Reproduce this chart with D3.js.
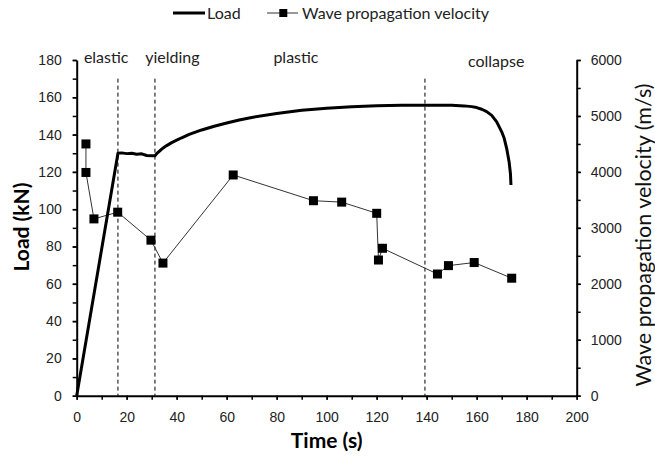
<!DOCTYPE html>
<meta charset="utf-8">
<style>
body { margin: 0; background: #fff; }
svg { font-family: Lato, "Open Sans", sans-serif; }
.tick text { font-size: 14px; fill: #222; }
.domain, .tick line { stroke: #000; }
</style>
<body>
<svg id="chart" width="655" height="457"></svg>
<script src="https://cdn.jsdelivr.net/npm/d3@7"></script>
<script>

// load curve (time in s, load in kN)
var loadTime  = [0, 16.5, 18, 20, 22, 24, 26, 28, 30, 31.3, 32, 33, 34, 35, 36, 38, 40, 42, 45, 50, 55, 60, 65, 70, 80, 90, 100, 110, 120, 130, 140, 150, 155, 158, 160, 162, 164, 166, 168, 170, 171, 172, 173, 173.5, 173.7];
var loadValue = [0, 130, 130.2, 129.8, 130, 129.5, 129.7, 128.8, 128.6, 128.6, 129.8, 131, 132.2, 133.2, 134.1, 135.7, 137, 138.3, 140.1, 142.5, 144.5, 146.2, 147.8, 149.2, 151.3, 153, 154.1, 154.9, 155.5, 155.7, 155.8, 155.7, 155.4, 155, 154.5, 153.6, 152.3, 150.3, 146.8, 141.5, 138, 132.5, 125, 119, 113];

// wave propagation velocity (m/s)
var waveTime  = [3.7, 3.7, 6.9, 16.4, 29.7, 34.5, 62.6, 94.7, 106, 120, 120.7, 122.3, 144.3, 148.7, 159, 174];
var waveValue = [4500, 3990, 3160, 3280, 2780, 2370, 3945, 3485, 3460, 3260, 2425, 2635, 2175, 2325, 2380, 2100];

// stage boundaries and labels
var stageBounds = [16.5, 31.3, 139.3];
var stageNames  = ["elastic", "yielding", "plastic", "collapse"];
var stageX      = [11.8, 38.3, 87.7, 167.8];
var stageY      = [178.2, 178.2, 178.2, 176];

var xTicks = d3.range(0, 201, 20);
var yTicks = d3.range(0, 181, 20);
var y2Ticks = d3.range(0, 6001, 1000);

var margin = {top: 60, left: 76.7},
    width = 500,
    height = 335.7;

var svg = d3.select("#chart");
var g = svg.append("g").attr("transform", "translate(" + margin.left + "," + margin.top + ")");

var x = d3.scaleLinear().domain([0, 200]).range([0, width]);
var y = d3.scaleLinear().domain([0, 180]).range([height, 0]);
var y2 = d3.scaleLinear().domain([0, 6000]).range([height, 0]);

// minor ticks first, then major with labels
g.append("g").attr("transform", "translate(0," + height + ")")
  .call(d3.axisBottom(x).tickValues(d3.range(0, 201, 10)).tickSize(4).tickFormat(""))
  .call(a => a.select(".domain").remove());
g.append("g").attr("class", "xaxis").attr("transform", "translate(0," + height + ")")
  .call(d3.axisBottom(x).tickValues(xTicks).tickSize(4).tickSizeOuter(0).tickPadding(12));

g.append("g")
  .call(d3.axisLeft(y).tickValues(d3.range(0, 181, 10)).tickSize(4).tickFormat(""))
  .call(a => a.select(".domain").remove());
g.append("g").attr("class", "yaxis")
  .call(d3.axisLeft(y).tickValues(yTicks).tickSize(4).tickSizeOuter(0).tickPadding(11));

g.append("g").attr("transform", "translate(" + width + ",0)")
  .call(d3.axisRight(y2).tickValues(d3.range(0, 6001, 500)).tickSize(4).tickFormat(""))
  .call(a => a.select(".domain").remove());
g.append("g").attr("class", "y2axis").attr("transform", "translate(" + width + ",0)")
  .call(d3.axisRight(y2).tickValues(y2Ticks).tickFormat(d3.format("d")).tickSize(4).tickSizeOuter(0).tickPadding(10));

g.selectAll(".domain").attr("stroke-width", 2);
g.selectAll(".tick line").attr("stroke-width", 1.5);

// stage dividers
g.selectAll(".stage")
  .data(stageBounds)
  .enter().append("line")
  .attr("x1", d => x(d)).attr("x2", d => x(d))
  .attr("y1", y(170)).attr("y2", y(0))
  .attr("stroke", "#000")
  .attr("stroke-width", 1)
  .attr("stroke-dasharray", "4,3");

g.selectAll(".stageLabel")
  .data(stageNames)
  .enter().append("text")
  .attr("x", (d, i) => x(stageX[i]))
  .attr("y", (d, i) => y(stageY[i]))
  .attr("text-anchor", "middle")
  .style("font-size", "16px")
  .style("fill", "#222")
  .text(d => d);

// wave velocity series
var waveLine = d3.line()
  .x((d, i) => x(waveTime[i]))
  .y(d => y2(d));

g.append("path")
  .attr("d", waveLine(waveValue))
  .attr("fill", "none")
  .attr("stroke", "#333")
  .attr("stroke-width", 1);

g.selectAll(".marker")
  .data(waveValue)
  .enter().append("rect")
  .attr("x", (d, i) => x(waveTime[i]) - 4.5)
  .attr("y", d => y2(d) - 4.5)
  .attr("width", 9)
  .attr("height", 9)
  .attr("fill", "#000");

// load curve
var loadLine = d3.line()
  .x((d, i) => x(loadTime[i]))
  .y(d => y(d));

g.append("path")
  .attr("d", loadLine(loadValue))
  .attr("fill", "none")
  .attr("stroke", "#000")
  .attr("stroke-width", 3)
  .attr("stroke-linejoin", "round");

// axis titles
svg.append("text")
  .attr("x", margin.left + width / 2)
  .attr("y", 448)
  .attr("text-anchor", "middle")
  .style("font-size", "21px")
  .style("font-weight", "bold")
  .text("Time (s)");

svg.append("text")
  .attr("transform", "translate(29,227) rotate(-90)")
  .attr("text-anchor", "middle")
  .style("font-size", "21px")
  .style("font-weight", "bold")
  .text("Load (kN)");

svg.append("text")
  .attr("transform", "translate(651,235) rotate(-90)")
  .attr("text-anchor", "middle")
  .style("font-size", "21.5px")
  .style("fill", "#111")
  .text("Wave propagation velocity (m/s)");

// legend
var legend = svg.append("g").style("font-size", "16px");
legend.append("line")
  .attr("x1", 173).attr("x2", 205).attr("y1", 13).attr("y2", 13)
  .attr("stroke", "#000").attr("stroke-width", 3);
legend.append("text").attr("x", 207).attr("y", 18.5).style("fill", "#222").text("Load");
legend.append("line")
  .attr("x1", 267).attr("x2", 298).attr("y1", 13).attr("y2", 13)
  .attr("stroke", "#333").attr("stroke-width", 1);
legend.append("rect")
  .attr("x", 283.3 - 4).attr("y", 13 - 4).attr("width", 8).attr("height", 8)
  .attr("fill", "#000");
legend.append("text").attr("x", 302).attr("y", 18.5).style("fill", "#222").text("Wave propagation velocity");

</script>
</body>
